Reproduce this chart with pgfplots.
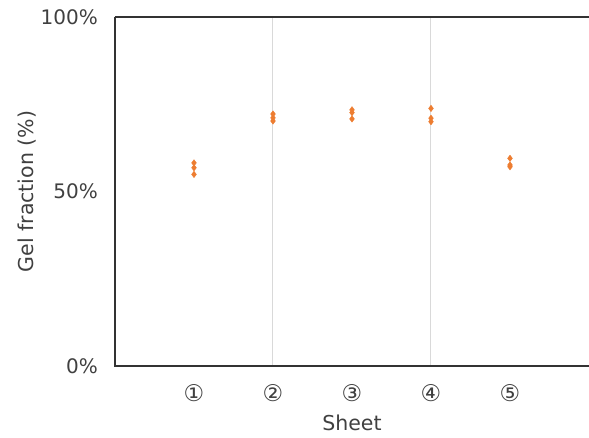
\documentclass[border=0pt]{standalone}
\usepackage{fontspec}
\setmainfont{DejaVu Sans}
\usepackage{pgfplots}
\pgfplotsset{compat=1.18}
\definecolor{orng}{HTML}{ED7D31}
\definecolor{txt}{HTML}{404040}
\definecolor{grd}{HTML}{D9D9D9}
\begin{document}
\fontsize{18}{21}\selectfont
\begin{tikzpicture}
\useasboundingbox (-115pt,-71pt) rectangle (474pt,366pt);
\begin{axis}[
  at={(0pt,0pt)}, anchor=south west,
  scale only axis, width=474pt, height=349pt,
  xmin=0, xmax=6, ymin=0, ymax=100,
  axis line style={draw=none},
  major tick length=0pt,
  xtick={1,2,3,4,5},
  xticklabels={①,②,③,④,⑤},
  xticklabel style={anchor=center, yshift=-27pt, inner sep=0pt, text=txt, font=\fontsize{23}{26}\selectfont},
  ytick={0,50,100},
  yticklabels={0\%,50\%,100\%},
  yticklabel style={anchor=east, xshift=-17pt, inner sep=0pt, text=txt, font=\fontsize{20}{23}\selectfont},
  /pgf/number format/assume math mode=true,
  extra x ticks={2,4},
  extra x tick labels={},
  extra x tick style={grid=major, major grid style={grd, line width=1pt}},
  xlabel={Sheet},
  ylabel={Gel fraction (\%)},
  every axis x label/.style={at={(axis description cs:0.5,-0.163)}, anchor=center, inner sep=0pt, text=txt, font=\fontsize{20.5}{24}\selectfont},
  every axis y label/.style={at={(axis description cs:-0.1857,0.5)}, anchor=center, rotate=90, text=txt, font=\fontsize{20.5}{24}\selectfont},
  clip=false,
]
\addplot[only marks, mark=diamond*, mark size=3.2pt, color=orng, mark options={fill=orng, draw=orng}] coordinates {
  (1,58.2) (1,56.8) (1,54.9)
  (2,72.2) (2,71.1) (2,70.2)
  (3,73.4) (3,72.6) (3,70.8)
  (4,73.8) (4,71.0) (4,70.0)
  (5,59.5) (5,57.6) (5,57.1)
};
\draw[black!80, line width=1.4pt] (rel axis cs:0,1) -- (rel axis cs:0,0) -- (rel axis cs:1,0);
\draw[black!80, line width=1.4pt] (rel axis cs:0,1) -- (rel axis cs:1,1);
\end{axis}
\end{tikzpicture}
\end{document}
